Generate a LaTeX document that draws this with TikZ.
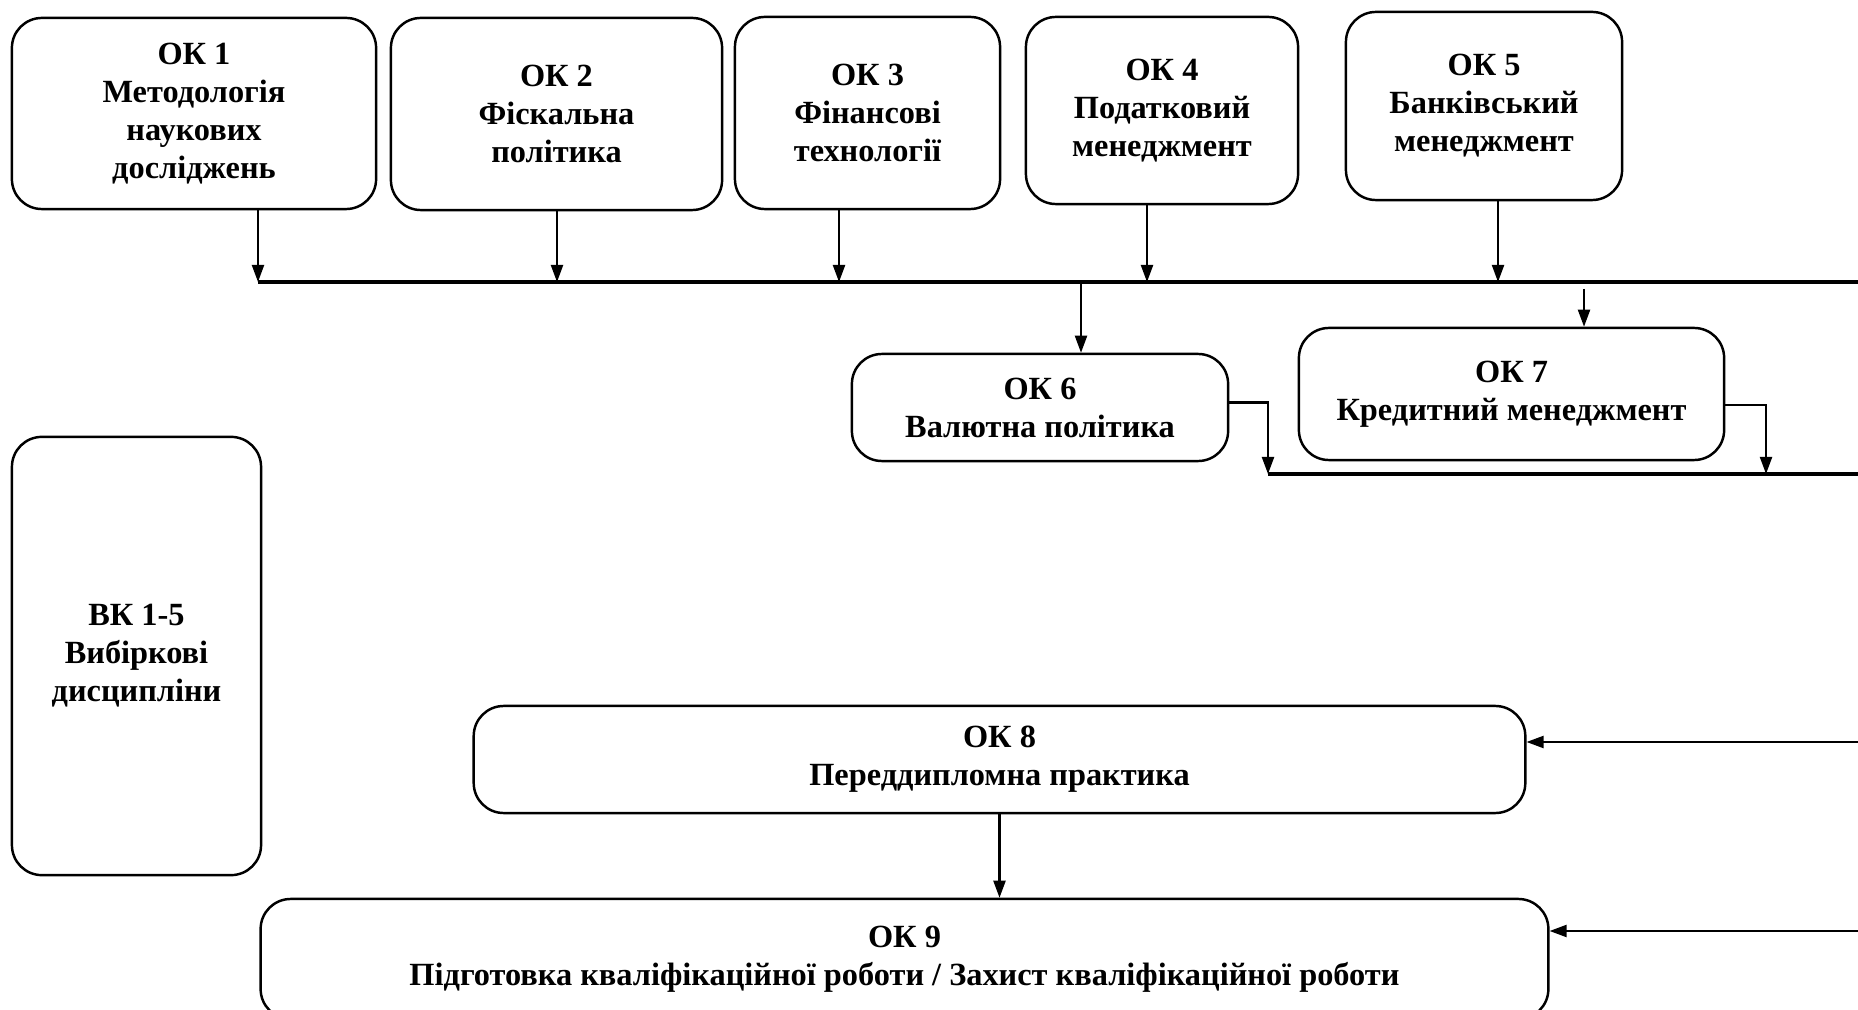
\documentclass[tikz,border=0pt]{standalone}
\usepackage{fontspec}
\setmainfont{Liberation Serif}
\usetikzlibrary{arrows.meta}

\tikzset{
  okbox/.style={draw, line width=0.7pt, rounded corners=0.3cm, align=center,
    font=\fontsize{9.2}{10.8}\selectfont\bfseries, inner sep=2pt},
  arr/.style={line width=0.6pt, -{Triangle[length=0.17cm, width=0.12cm]}},
  bus/.style={line width=0.9pt}
}

\begin{document}
\begin{tikzpicture}[x=0.01cm, y=-0.01cm]
\useasboundingbox (0,0) rectangle (1858,1010);
% top row
\node[okbox, minimum width=3.64cm, minimum height=1.91cm] (ok1) at (194,113.5) {ОК 1\\Методологія\\наукових\\досліджень};
\node[okbox, minimum width=3.31cm, minimum height=1.92cm] (ok2) at (556.5,114) {ОК 2\\Фіскальна\\політика};
\node[okbox, minimum width=2.65cm, minimum height=1.92cm] (ok3) at (867.5,113) {ОК 3\\Фінансові\\технології};
\node[okbox, minimum width=2.72cm, minimum height=1.87cm] (ok4) at (1162,110.5) {ОК 4\\Податковий\\менеджмент};
\node[okbox, minimum width=2.76cm, minimum height=1.88cm] (ok5) at (1484,106) {ОК 5\\Банківський\\менеджмент};
% middle row
\node[okbox, minimum width=3.76cm, minimum height=1.07cm] (ok6) at (1040,407.5) {ОК 6\\Валютна політика};
\node[okbox, minimum width=4.25cm, minimum height=1.32cm] (ok7) at (1511.5,394) {ОК 7\\Кредитний менеджмент};
\node[okbox, minimum width=2.49cm, minimum height=4.38cm] (vk) at (136.5,656) {ВК 1-5\\Вибіркові\\дисципліни};
% bottom
\node[okbox, minimum width=10.51cm, minimum height=1.07cm] (ok8) at (999.5,759.5) {ОК 8\\Переддипломна практика};
\node[okbox, minimum width=12.87cm, minimum height=1.2cm] (ok9) at (904.5,959) {ОК 9\\Підготовка кваліфікаційної роботи / Захист кваліфікаційної роботи};

% buses
\draw[bus] (258,282) -- (1858,282);
\draw[bus] (1268,474) -- (1858,474);
\foreach \n/\x in {1/258,2/557,3/839,4/1147,5/1498}{
  \coordinate (d\n) at (\x,282);
  \draw[arr] (d\n |- ok\n.south) -- (d\n);
}
\coordinate (s6) at (1081,284);
\coordinate (s7) at (1584,289);
\draw[arr] (s6) -- (s6 |- ok6.north);
\draw[arr] (s7) -- (s7 |- ok7.north);
\coordinate (c6) at (1268,474);
\coordinate (c7) at (1766,474);
\draw[arr] ([yshift=0.05cm]ok6.east) -| (c6);
\draw[arr] ([yshift=-0.11cm]ok7.east) -| (c7);
% incoming from right
\coordinate (e8) at (1858,742);
\coordinate (e9) at (1858,931);
\draw[arr] (e8) -- (e8 -| ok8.east);
\draw[arr] (e9) -- (e9 -| ok9.east);
\draw[arr] (ok8.south) -- (ok8.south |- ok9.north);
\end{tikzpicture}
\end{document}
